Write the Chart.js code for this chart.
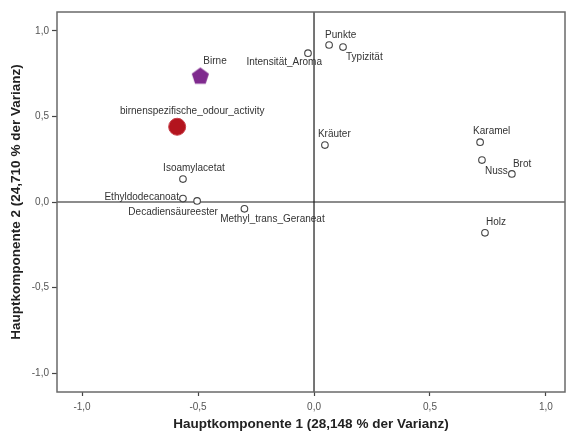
<!DOCTYPE html>
<html>
<head>
<meta charset="utf-8">
<script src="https://cdn.jsdelivr.net/npm/chart.js@4/dist/chart.umd.min.js"></script>
<style>
  html, body { margin: 0; padding: 0; background: #fff; }
  #wrap { width: 570px; height: 432px; position: relative; }
</style>
</head>
<body>
<div id="wrap"><canvas id="c" width="570" height="432"></canvas></div>
<script>
// ---- Data ----
const variableNames = ['Punkte', 'Typizität', 'Intensität_Aroma', 'Kräuter', 'Karamel', 'Nuss', 'Brot', 'Holz',
  'Isoamylacetat', 'Ethyldodecanoat', 'Decadiensäureester', 'Methyl_trans_Geraneat'];
const variableX = [0.065, 0.125, -0.026, 0.047, 0.716, 0.724, 0.853, 0.737, -0.565, -0.565, -0.504, -0.300];
const variableY = [0.918, 0.906, 0.870, 0.333, 0.350, 0.245, 0.164, -0.180, 0.134, 0.020, 0.006, -0.040];

const birneName = 'Birne';
const birneX = [-0.490];
const birneY = [0.737];

const odourName = 'birnenspezifische_odour_activity';
const odourX = [-0.590];
const odourY = [0.440];

const xTickValues = [-1.0, -0.5, 0.0, 0.5, 1.0];
const yTickValues = [-1.0, -0.5, 0.0, 0.5, 1.0];
const xTitle = 'Hauptkomponente 1 (28,148 % der Varianz)';
const yTitle = 'Hauptkomponente 2 (24,710 % der Varianz)';

// ---- Label placement (pixel offsets from each marker) ----
const labelPlacement = {
  'Punkte': { dx: -4, dy: -10, align: 'left' },
  'Typizität': { dx: 3, dy: 10, align: 'left' },
  'Intensität_Aroma': { dx: 14, dy: 9, align: 'right' },
  'Kräuter': { dx: -7, dy: -11, align: 'left' },
  'Karamel': { dx: -7, dy: -11, align: 'left' },
  'Nuss': { dx: 3, dy: 11, align: 'left' },
  'Brot': { dx: 1, dy: -10, align: 'left' },
  'Holz': { dx: 1, dy: -11, align: 'left' },
  'Isoamylacetat': { dx: 11, dy: -11, align: 'center' },
  'Ethyldodecanoat': { dx: -4, dy: -1, align: 'right' },
  'Decadiensäureester': { dx: -24, dy: 11, align: 'center' },
  'Methyl_trans_Geraneat': { dx: 28, dy: 10, align: 'center' },
  'Birne': { dx: 3, dy: -15, align: 'left' },
  'birnenspezifische_odour_activity': { dx: 15, dy: -16, align: 'center' }
};

const FONT = "'Liberation Sans', Arial, sans-serif";

function toPoints(xs, ys) { return xs.map((x, i) => ({ x: x, y: ys[i] })); }

// Pentagon marker
const pent = document.createElement('canvas');
pent.width = 19; pent.height = 19;
(function () {
  const g = pent.getContext('2d');
  const cx = 9.5, cy = 10, r = 9;
  g.beginPath();
  for (let i = 0; i < 5; i++) {
    const a = -Math.PI / 2 + i * 2 * Math.PI / 5;
    const px = cx + r * Math.cos(a), py = cy + r * Math.sin(a);
    if (i === 0) g.moveTo(px, py); else g.lineTo(px, py);
  }
  g.closePath();
  g.fillStyle = '#7F2A8E';
  g.fill();
})();

const fmt = v => v.toFixed(1).replace('.', ',');

const framePlugin = {
  id: 'frame',
  beforeDatasetsDraw(chart) {
    const { ctx, chartArea: a, scales } = chart;
    ctx.save();
    ctx.strokeStyle = '#1a1a1a';
    ctx.lineWidth = 1.2;
    const x0 = scales.x.getPixelForValue(0);
    const y0 = scales.y.getPixelForValue(0);
    ctx.beginPath();
    ctx.moveTo(x0, a.top); ctx.lineTo(x0, a.bottom);
    ctx.moveTo(a.left, y0); ctx.lineTo(a.right, y0);
    ctx.stroke();
    ctx.strokeStyle = '#6a6a6a';
    ctx.lineWidth = 1.5;
    ctx.strokeRect(a.left, a.top, a.right - a.left, a.bottom - a.top);
    ctx.restore();
  },
  afterDatasetsDraw(chart) {
    const { ctx } = chart;
    ctx.save();
    ctx.font = '10px ' + FONT;
    ctx.fillStyle = '#333';
    ctx.textBaseline = 'middle';
    chart.data.datasets.forEach((ds, di) => {
      const meta = chart.getDatasetMeta(di);
      meta.data.forEach((el, i) => {
        const name = ds.labelsList[i];
        const p = labelPlacement[name] || { dx: 5, dy: -8, align: 'left' };
        ctx.textAlign = p.align;
        ctx.fillText(name, el.x + p.dx, el.y + p.dy);
      });
    });
    ctx.restore();
  }
};

new Chart(document.getElementById('c'), {
  type: 'scatter',
  data: {
    datasets: [
      {
        label: 'Variablen',
        labelsList: variableNames,
        data: toPoints(variableX, variableY),
        pointRadius: 3.3,
        pointBorderWidth: 1.1,
        borderColor: '#444',
        backgroundColor: '#fff',
        pointStyle: 'circle'
      },
      {
        label: birneName,
        labelsList: [birneName],
        data: toPoints(birneX, birneY),
        pointStyle: pent,
        pointRadius: 9,
        backgroundColor: '#7F2A8E',
        borderColor: '#7F2A8E'
      },
      {
        label: odourName,
        labelsList: [odourName],
        data: toPoints(odourX, odourY),
        pointRadius: 8.5,
        pointBorderWidth: 1,
        backgroundColor: '#B3141E',
        borderColor: '#C8404A'
      }
    ]
  },
  options: {
    responsive: false,
    animation: false,
    layout: { autoPadding: false, padding: { left: 4, right: 5, top: 12, bottom: 0 } },
    plugins: { legend: { display: false }, tooltip: { enabled: false } },
    scales: {
      x: {
        type: 'linear',
        min: -1.108,
        max: 1.082,
        afterBuildTicks(s) { s.ticks = xTickValues.map(v => ({ value: v })); },
        afterFit(s) { s.height = 40; s.paddingLeft = 0; s.paddingRight = 0; },
        border: { display: false },
        grid: { display: true, drawOnChartArea: false, drawTicks: true, tickLength: 4, tickColor: '#444', tickWidth: 1.2 },
        ticks: { callback: v => fmt(v), color: '#555', font: { family: FONT, size: 10 }, padding: 5, maxRotation: 0 },
        title: { display: true, text: xTitle, color: '#222', font: { family: FONT, size: 13.5, weight: 'bold' }, padding: { top: 0, bottom: 0 } }
      },
      y: {
        type: 'linear',
        min: -1.111,
        max: 1.111,
        afterBuildTicks(s) { s.ticks = yTickValues.map(v => ({ value: v })); },
        afterFit(s) { s.width = 53; s.paddingTop = 0; s.paddingBottom = 0; },
        border: { display: false },
        grid: { display: true, drawOnChartArea: false, drawTicks: true, tickLength: 5, tickColor: '#444', tickWidth: 1.2 },
        ticks: { callback: v => fmt(v), color: '#555', font: { family: FONT, size: 10 }, padding: 3 },
        title: { display: true, text: yTitle, color: '#222', font: { family: FONT, size: 13.5, weight: 'bold' }, padding: { top: 4, bottom: 4 } }
      }
    }
  },
  plugins: [framePlugin]
});
</script>
</body>
</html>
